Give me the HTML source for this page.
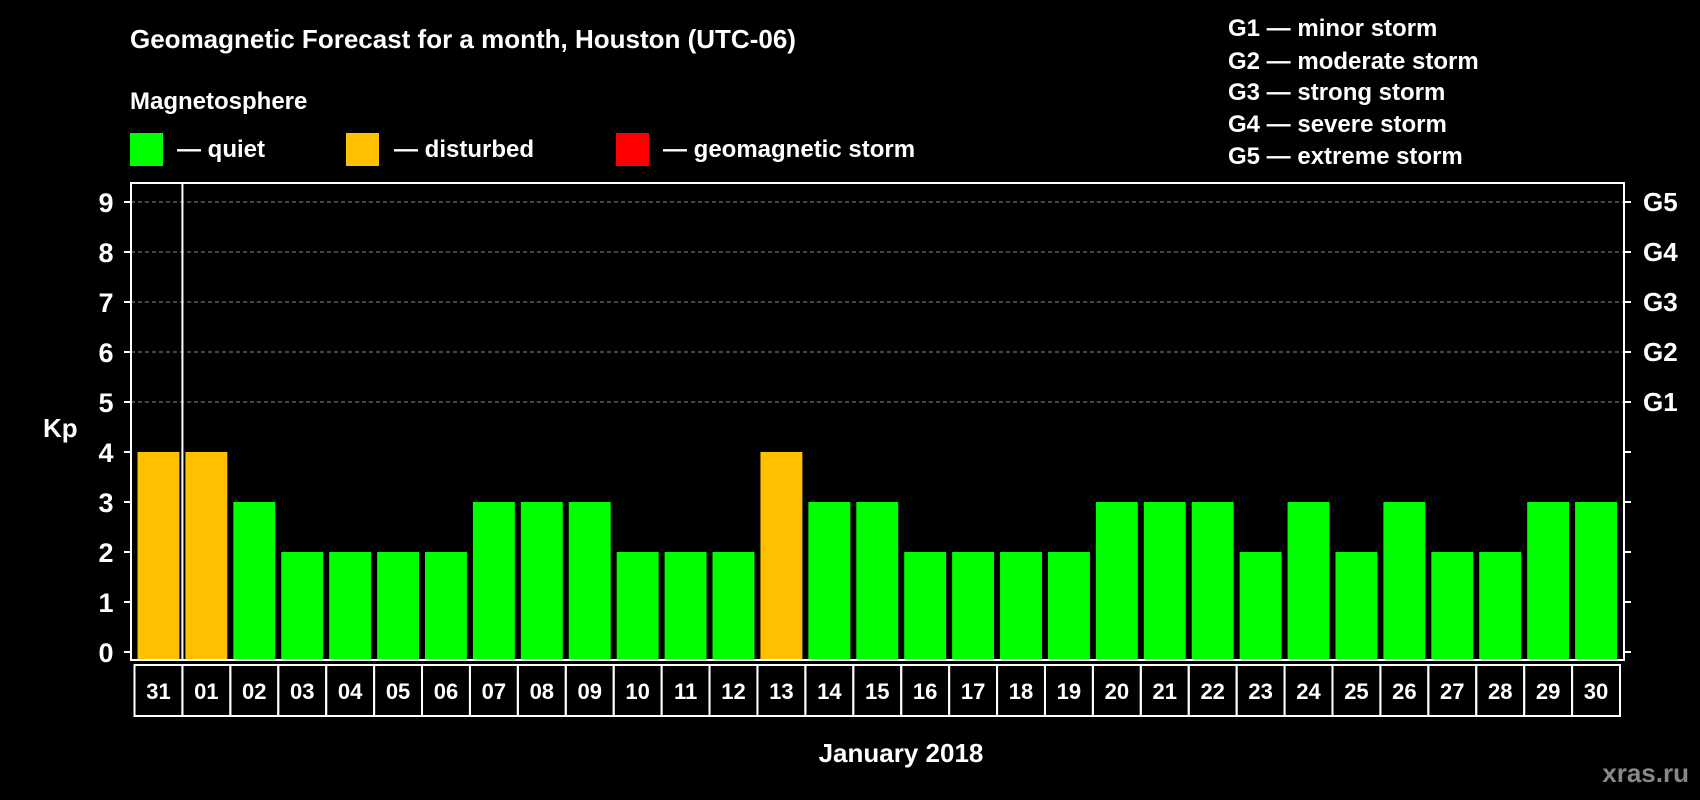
<!DOCTYPE html>
<html><head><meta charset="utf-8"><style>
html,body{margin:0;padding:0;background:#000;}
svg{display:block;font-family:"Liberation Sans",Arial,sans-serif;font-weight:bold;}
</style></head><body>
<svg id="chart" width="1700" height="800" viewBox="0 0 1700 800">
<rect width="1700" height="800" fill="#000"/>
<text x="130" y="48" fill="#fff" font-size="26">Geomagnetic Forecast for a month, Houston (UTC-06)</text>
<text x="130" y="109" fill="#fff" font-size="24">Magnetosphere</text>
<g><rect x="130" y="133" width="33" height="33" fill="#00ff00"/><text x="177" y="157" fill="#fff" font-size="24">— quiet</text></g>
<g><rect x="346" y="133" width="33" height="33" fill="#ffc000"/><text x="394" y="157" fill="#fff" font-size="24">— disturbed</text></g>
<g><rect x="616" y="133" width="33" height="33" fill="#ff0000"/><text x="663" y="157" fill="#fff" font-size="24">— geomagnetic storm</text></g>
<g fill="#fff" font-size="24">
<text x="1228" y="36">G1 — minor storm</text>
<text x="1228" y="69">G2 — moderate storm</text>
<text x="1228" y="100">G3 — strong storm</text>
<text x="1228" y="132">G4 — severe storm</text>
<text x="1228" y="164">G5 — extreme storm</text>
</g>
<text x="43" y="437" fill="#fff" font-size="26">Kp</text>
<text x="901" y="762" fill="#fff" font-size="26" text-anchor="middle">January 2018</text>
<text x="1689" y="782" fill="#888" font-size="26" text-anchor="end">xras.ru</text>
<g id="grid"></g><g id="bars"></g><g id="axes"></g>
</svg>
<script>
const days=["31","01","02","03","04","05","06","07","08","09","10","11","12","13","14","15","16","17","18","19","20","21","22","23","24","25","26","27","28","29","30"];
const kp=[4,4,3,2,2,2,2,3,3,3,2,2,2,4,3,3,2,2,2,2,3,3,3,2,3,2,3,2,2,3,3];
const yTicks=[0,1,2,3,4,5,6,7,8,9];
const gLabels=["G1","G2","G3","G4","G5"];
const gLevels=[5,6,7,8,9];
const NS="http://www.w3.org/2000/svg";
const L=131,R=1624,T=183,B=660,c0=134.5,pitch=(1620-134.5)/31;
const y=v=>652-v*50;
const x=i=>c0+i*pitch;
function mk(t,a,p){const e=document.createElementNS(NS,t);for(const k in a)e.setAttribute(k,a[k]);p.appendChild(e);return e;}
const grid=document.getElementById('grid'),bars=document.getElementById('bars'),axes=document.getElementById('axes');
gLevels.forEach((v,i)=>{
 const g=mk('line',{x1:L,x2:R,y1:y(v),y2:y(v),stroke:'#888','stroke-dasharray':'4,3','stroke-width':1},grid);
 
 
 const t=mk('text',{x:1643,y:y(v)+9,fill:'#fff','font-size':26},axes);t.textContent=gLabels[i];
 
 
});
kp.forEach((v,i)=>{
 const col=v>=5?'#ff0000':(v>=4?'#ffc000':'#00ff00');
 const r=mk('rect',{x:x(i)+3,y:y(v),width:pitch-6,height:B-y(v),fill:col},bars);
 
 
 const c=mk('rect',{x:x(i),y:665,width:pitch,height:51,fill:'none',stroke:'#fff','stroke-width':2},axes);
 
 
 const t=mk('text',{x:x(i)+pitch/2,y:699,fill:'#fff','font-size':22,'text-anchor':'middle'},axes);t.textContent=days[i];
 
 
});
const fr=mk('rect',{x:L,y:T,width:R-L,height:B-T,fill:'none',stroke:'#fff','stroke-width':2},axes);


const dv=mk('line',{x1:x(1),x2:x(1),y1:T,y2:B,stroke:'#fff','stroke-width':2},axes);


yTicks.forEach(v=>{
 mk('line',{x1:L-7,x2:L,y1:y(v),y2:y(v),stroke:'#fff','stroke-width':2},axes);
 mk('line',{x1:R,x2:R+7,y1:y(v),y2:y(v),stroke:'#fff','stroke-width':2},axes);
 const t=mk('text',{x:106,y:y(v)+10,fill:'#fff','font-size':27,'text-anchor':'middle'},axes);t.textContent=v;
 
 
});
</script>
</body></html>
